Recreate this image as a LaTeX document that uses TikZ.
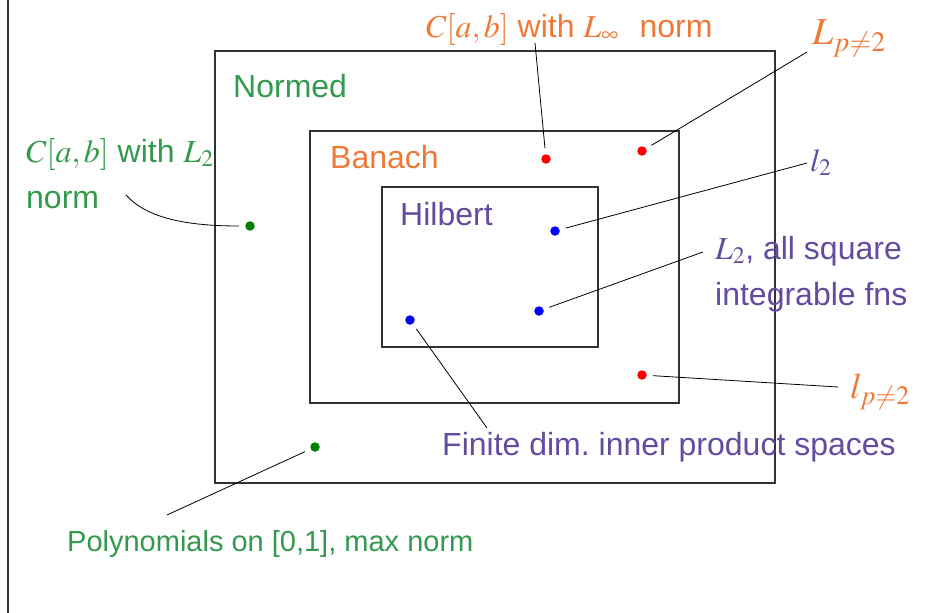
\documentclass[tikz,border=0pt]{standalone}
\usepackage{mathptmx}
\usepackage[no-math]{fontspec}
\setmainfont{Liberation Sans}
\usepackage{tikz}
\usepackage{xcolor}
\definecolor{normgreen}{RGB}{51,153,76}
\definecolor{banachorange}{RGB}{240,120,55}
\definecolor{hilbertpurple}{RGB}{100,75,160}
\definecolor{dotgreen}{RGB}{0,128,0}

\begin{document}
\begin{tikzpicture}[x=1pt,y=-1pt,
  every node/.style={inner sep=0pt,anchor=base west,font=\fontsize{32}{46}\selectfont},
  dot/.style={circle,fill,minimum size=9.5pt,inner sep=0pt,anchor=center},
  box/.style={draw=black!80,line width=1.2pt},
  lead/.style={line width=0.8pt,shorten <=6pt}]
\useasboundingbox (0,0) rectangle (951,613);
\draw[line width=2pt,black!80] (8,0) -- (8,613);
\draw[box] (215,51) rectangle (775,483);
\draw[box] (310,131) rectangle (679,403);
\draw[box] (382,187) rectangle (598,347);
\node[normgreen] (normed) at (233,97) {Normed};
\node[banachorange] (banach) at (330,168) {Banach};
\node[hilbertpurple] (hilbert) at (400,225) {Hilbert};
\node[normgreen,align=left] (cltwo) at (26,208) {$C[a,b]$ with $L_2$\\norm};
\node[banachorange] (clinf) at (426,37) {$C[a,b]$ with $L_\infty$\hspace{12pt} norm};
\node[banachorange,font=\fontsize{38}{40}\selectfont] (Lp) at (812,45) {$L_{p\neq2}$};
\node[hilbertpurple] (ltwo) at (810,171) {$l_2$};
\node[hilbertpurple,align=left] (Ltwo) at (715,305) {$L_2$, all square\\integrable fns};
\node[banachorange,font=\fontsize{36}{40}\selectfont] (lp) at (850,398) {$l_{p\neq2}$};
\node[hilbertpurple] (finite) at (442,455) {Finite dim.\ inner product spaces};
\node[normgreen,font=\fontsize{29}{34}\selectfont] (poly) at (67,551) {Polynomials on [0,1], max norm};
\node[dot,dotgreen] (dcltwo) at (250,226) {};
\node[dot,red] (dclinf) at (546,159) {};
\node[dot,red] (dLp) at (642,151) {};
\node[dot,blue] (dltwo) at (555,231) {};
\node[dot,blue] (dLtwo) at (539,311) {};
\node[dot,blue] (dfinite) at (410,320) {};
\node[dot,red] (dlp) at (642,375) {};
\node[dot,dotgreen] (dpoly) at (315,447) {};
\coordinate (ecltwo) at (126,195);
\coordinate (eclinf) at (535,43);
\coordinate (eLp) at (807,52);
\coordinate (eltwo) at (807,163);
\coordinate (eLtwo) at (703,252);
\coordinate (efinite) at (487,428);
\coordinate (elp) at (838,387);
\coordinate (epoly) at (167,515);
\draw[lead] (dcltwo) .. controls (180,226) and (145,216) .. (ecltwo);
\draw[lead] (dclinf) -- (eclinf);
\draw[lead] (dLp) -- (eLp);
\draw[lead] (dltwo) -- (eltwo);
\draw[lead] (dLtwo) -- (eLtwo);
\draw[lead] (dfinite) -- (efinite);
\draw[lead] (dlp) -- (elp);
\draw[lead] (dpoly) -- (epoly);
\end{tikzpicture}
\end{document}
